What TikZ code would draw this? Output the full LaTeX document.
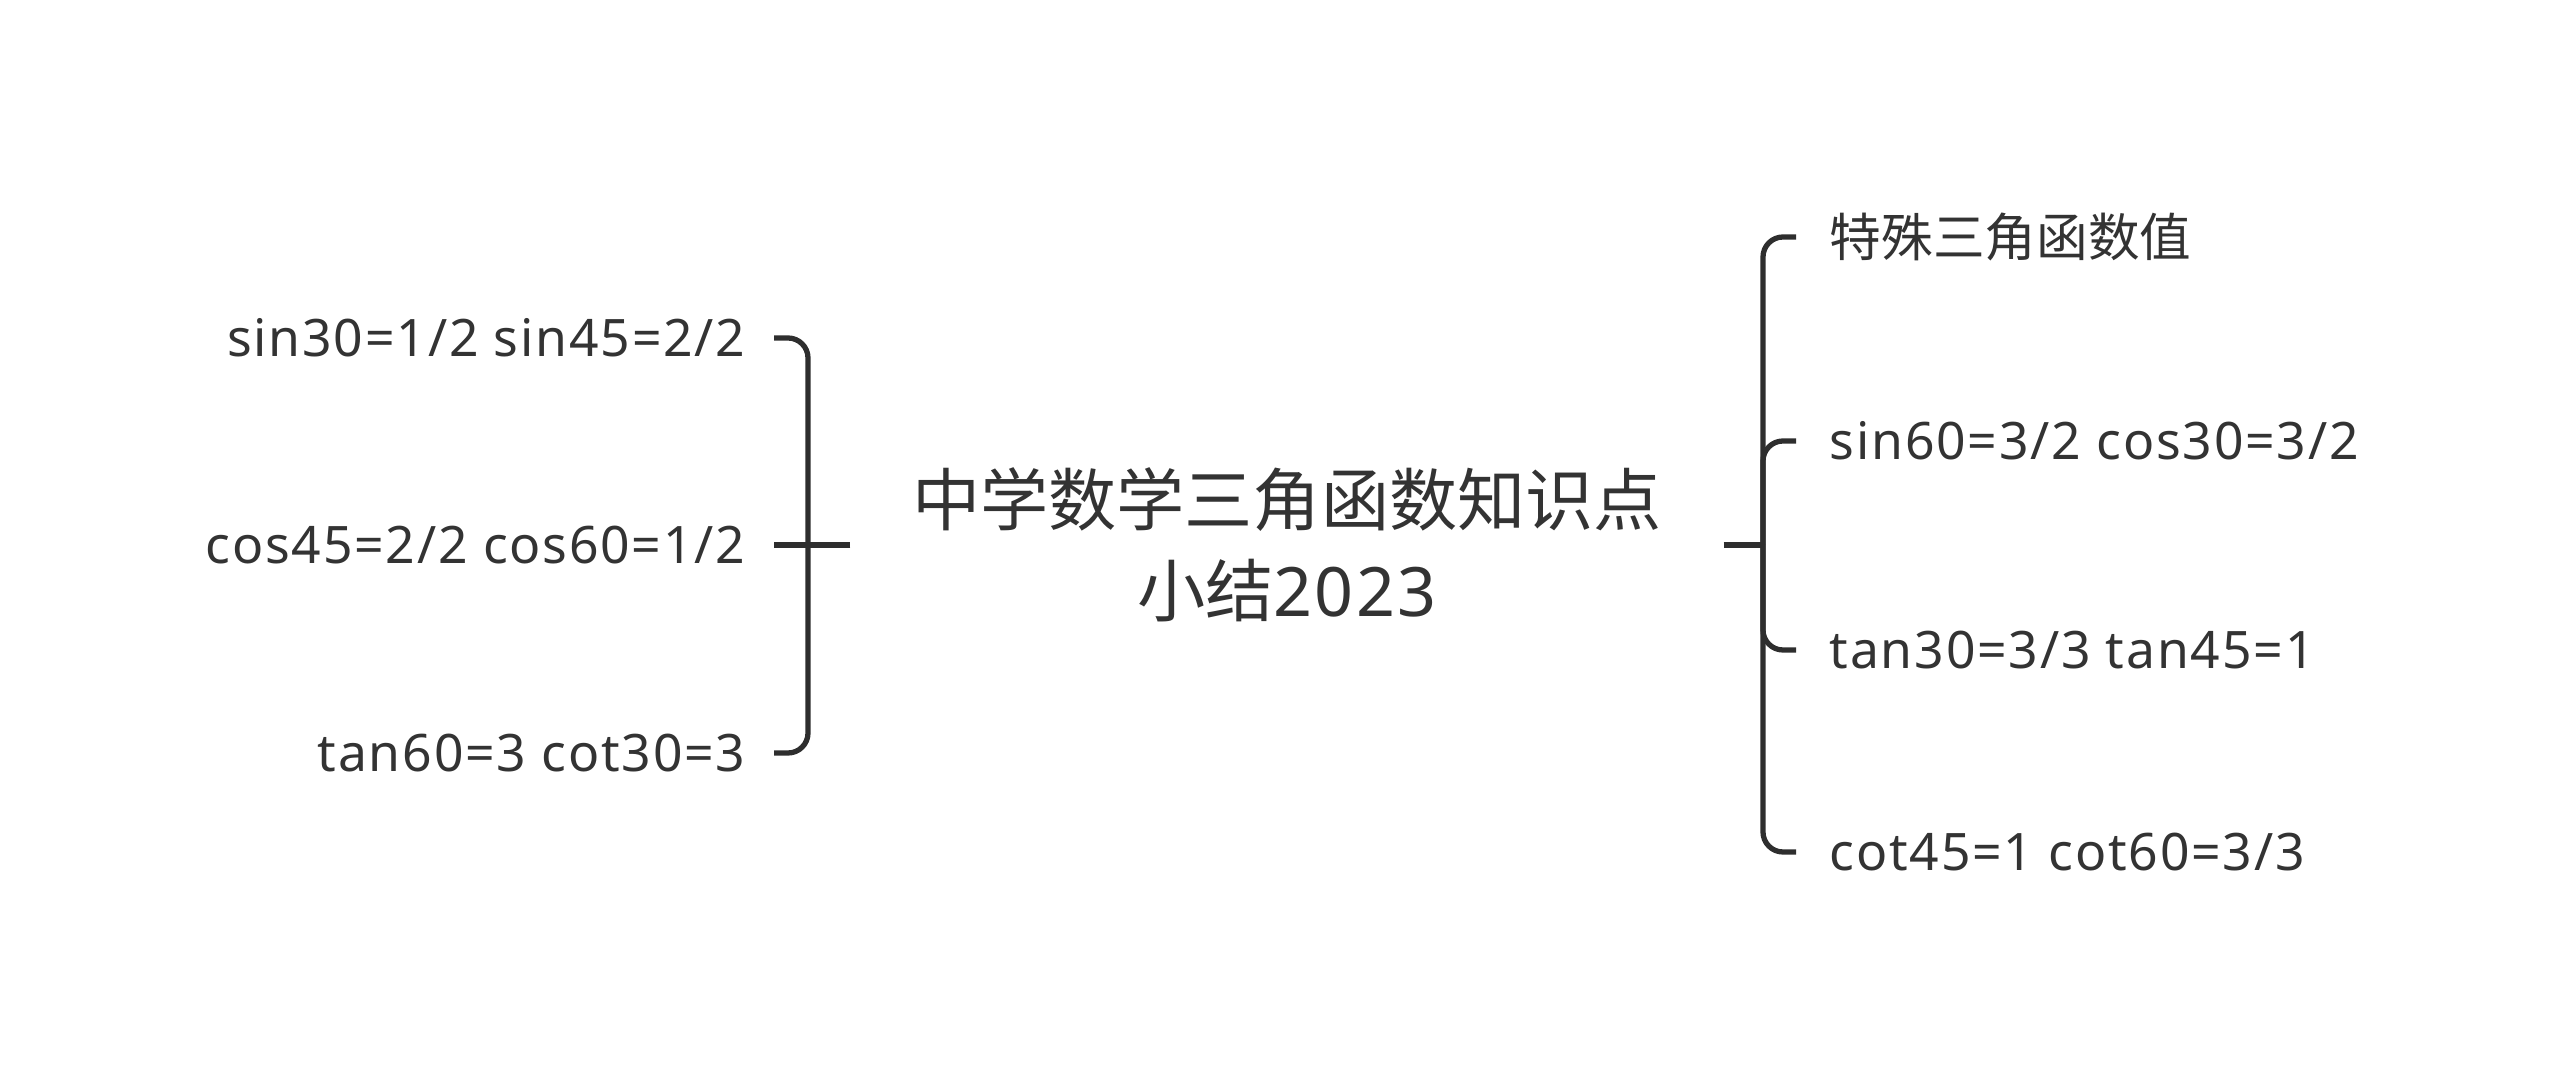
\documentclass[tikz,border=0pt]{standalone}
\usepackage{fontspec}
\setmainfont{Noto Sans CJK SC}
\newfontfamily\latinfont[LetterSpace=3.5]{Noto Sans}
\usetikzlibrary{calc}

\definecolor{inkgray}{HTML}{333333}
\definecolor{linegray}{HTML}{2E2E2E}

\begin{document}
\begin{tikzpicture}[
    root/.style={align=center, text=inkgray, font=\fontsize{19.4}{25.9}\selectfont, inner xsep=0.61cm, inner ysep=2pt},
    leaf/.style={text=inkgray, font=\fontsize{14.7}{18}\selectfont, inner ysep=2pt},
    lleaf/.style={leaf, anchor=east, inner xsep=0.28cm},
    rleaf/.style={leaf, anchor=west, inner xsep=0.33cm},
    link/.style={draw=linegray, line width=1.5pt, rounded corners=0.2cm},
]
\useasboundingbox (0,0) rectangle (25.6,-10.92);

% centre topic
\node[root] (root) at (12.87,-5.45) {中学数学三角函数知识点\\小结{\latinfont 2023}};

% left branch
\node[lleaf] (l1) at (7.74,-3.38) {\latinfont sin30=1/2 sin45=2/2};
\node[lleaf] (l2) at (7.74,-5.45) {\latinfont cos45=2/2 cos60=1/2};
\node[lleaf] (l3) at (7.74,-7.53) {\latinfont tan60=3 cot30=3};
\coordinate (lj) at (8.08,-5.45);

% right branch
\node[rleaf] (r1) at (17.96,-2.37) {特殊三角函数值};
\node[rleaf] (r2) at (17.96,-4.41) {\latinfont sin60=3/2 cos30=3/2};
\node[rleaf] (r3) at (17.96,-6.50) {\latinfont tan30=3/3 tan45=1};
\node[rleaf] (r4) at (17.96,-8.52) {\latinfont cot45=1 cot60=3/3};
\coordinate (rj) at (17.63,-5.45);

% brackets
\draw[link] (root.west) -- (l2.east);
\foreach \c in {l1,l3} {
    \draw[link] (lj) |- (\c.east);
}
\draw[link] (root.east) -- (rj);
\foreach \c in {r1,r2,r3,r4} {
    \draw[link] (rj) |- (\c.west);
}
\end{tikzpicture}
\end{document}
